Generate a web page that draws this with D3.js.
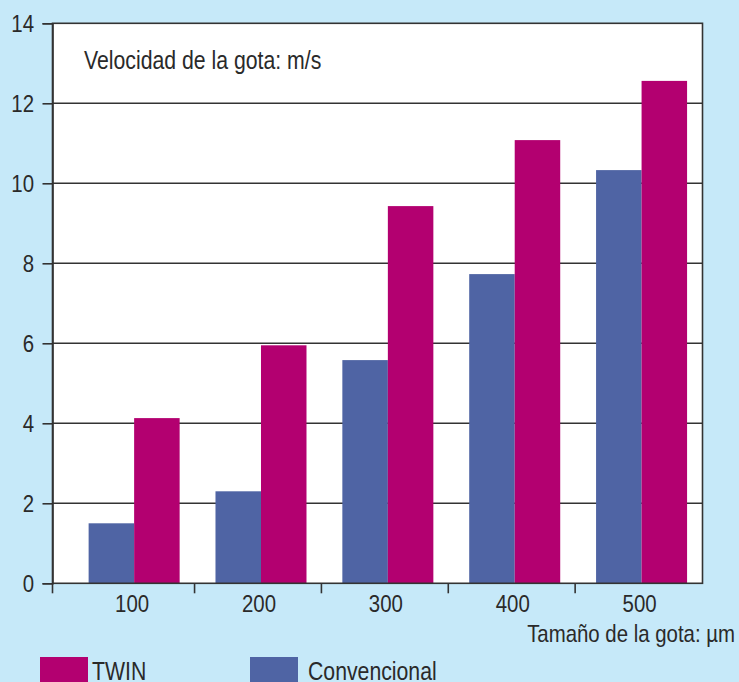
<!DOCTYPE html>
<html>
<head>
<meta charset="utf-8">
<script src="https://cdn.jsdelivr.net/npm/d3@7"></script>
<style>
  html, body { margin: 0; padding: 0; background: #c6e9f9; overflow: hidden; }
  svg { display: block; }
  text { font-family: "Liberation Sans", Arial, sans-serif; fill: #2a2a2a; }
</style>
</head>
<body>
<svg id="chart" width="739" height="682"></svg>
<script>
// ---- data ----
const categories = ["100", "200", "300", "400", "500"];
const convencional = [1.5, 2.3, 5.58, 7.73, 10.33];
const twin = [4.13, 5.95, 9.43, 11.08, 12.56];
const yTicks = [0, 2, 4, 6, 8, 10, 12, 14];
const seriesNames = ["Convencional", "TWIN"];
const legendOrder = ["TWIN", "Convencional"];
const yLabel = "Velocidad de la gota: m/s";
const xLabel = "Tamaño de la gota: µm";

const colors = { Convencional: "#4f64a4", TWIN: "#b30070" };
const SX = 0.85; // condensed look
const ink = "#333333";

const svg = d3.select("#chart");
const W = 739, H = 682;
svg.append("rect").attr("width", W).attr("height", H).attr("fill", "#c6e9f9");

function label(x, y, str, size, anchor) {
  return svg.append("text")
    .attr("transform", `translate(${x},${y}) scale(${SX},1)`)
    .attr("text-anchor", anchor || "start")
    .attr("font-size", size)
    .text(str);
}

const plot = { left: 52.5, right: 702.5, top: 23.3, bottom: 583.3 };

const y = d3.scaleLinear().domain([0, 14]).range([plot.bottom, plot.top]);
const x = d3.scaleBand().domain(categories).range([70.7, 705]).paddingInner(0.2826).paddingOuter(0.1413);
const xs = d3.scaleBand().domain(seriesNames).range([0, x.bandwidth()]);

// plot background
svg.append("rect")
  .attr("x", plot.left).attr("y", plot.top)
  .attr("width", plot.right - plot.left).attr("height", plot.bottom - plot.top)
  .attr("fill", "#ffffff");

// gridlines
svg.append("g").selectAll("line").data(yTicks.filter(t => t > 0 && t < 14)).join("line")
  .attr("x1", plot.left).attr("x2", plot.right)
  .attr("y1", d => y(d)).attr("y2", d => y(d))
  .attr("stroke", ink).attr("stroke-width", 1.6);

// bars
const rows = categories.map((c, i) => ({ cat: c, Convencional: convencional[i], TWIN: twin[i] }));
const g = svg.append("g").selectAll("g").data(rows).join("g")
  .attr("transform", d => `translate(${x(d.cat)},0)`);
g.selectAll("rect").data(d => seriesNames.map(s => ({ s, v: d[s] }))).join("rect")
  .attr("x", d => xs(d.s)).attr("width", xs.bandwidth())
  .attr("y", d => y(d.v)).attr("height", d => y(0) - y(d.v))
  .attr("fill", d => colors[d.s]);

// plot border
svg.append("rect")
  .attr("x", plot.left).attr("y", plot.top)
  .attr("width", plot.right - plot.left).attr("height", plot.bottom - plot.top)
  .attr("fill", "none").attr("stroke", ink).attr("stroke-width", 1.6);

// y axis ticks (lines from d3 axis, labels drawn condensed)
const yAxis = d3.axisLeft(y).tickValues(yTicks).tickSize(10).tickFormat("");
const ya = svg.append("g").attr("transform", `translate(${plot.left},0)`).call(yAxis);
ya.select(".domain").attr("stroke", ink).attr("stroke-width", 1.6);
ya.selectAll(".tick line").attr("stroke", ink).attr("stroke-width", 1.6);
yTicks.forEach(t => label(34, y(t) + 8.5, d3.format("d")(t), 24, "end"));

// x axis labels
categories.forEach(c => label(x(c) + x.bandwidth() / 2 - 2, 611.5, c, 24, "middle"));

// x axis ticks between groups
const gap = x.step() - x.bandwidth();
const sepTicks = [plot.left].concat(categories.slice(1).map(c => x(c) - gap / 2 - 3));
svg.append("g").selectAll("line").data(sepTicks).join("line")
  .attr("x1", d => d).attr("x2", d => d)
  .attr("y1", plot.bottom).attr("y2", plot.bottom + 10)
  .attr("stroke", ink).attr("stroke-width", 1.6);

// inner label
label(84, 69, yLabel, 25);

// x label
label(735, 642, xLabel, 24, "end");

// cut-off title fragments at top
label(327, -16, "(", 24);
label(430, -16, ")", 24);

// legend
const legendPos = { TWIN: { sx: 40, tx: 92 }, Convencional: { sx: 250, tx: 308 } };
legendOrder.forEach(name => {
  svg.append("rect").attr("x", legendPos[name].sx).attr("y", 657).attr("width", 48).attr("height", 30)
    .attr("fill", colors[name]);
  label(legendPos[name].tx, 679.5, name, 25);
});
</script>
</body>
</html>
